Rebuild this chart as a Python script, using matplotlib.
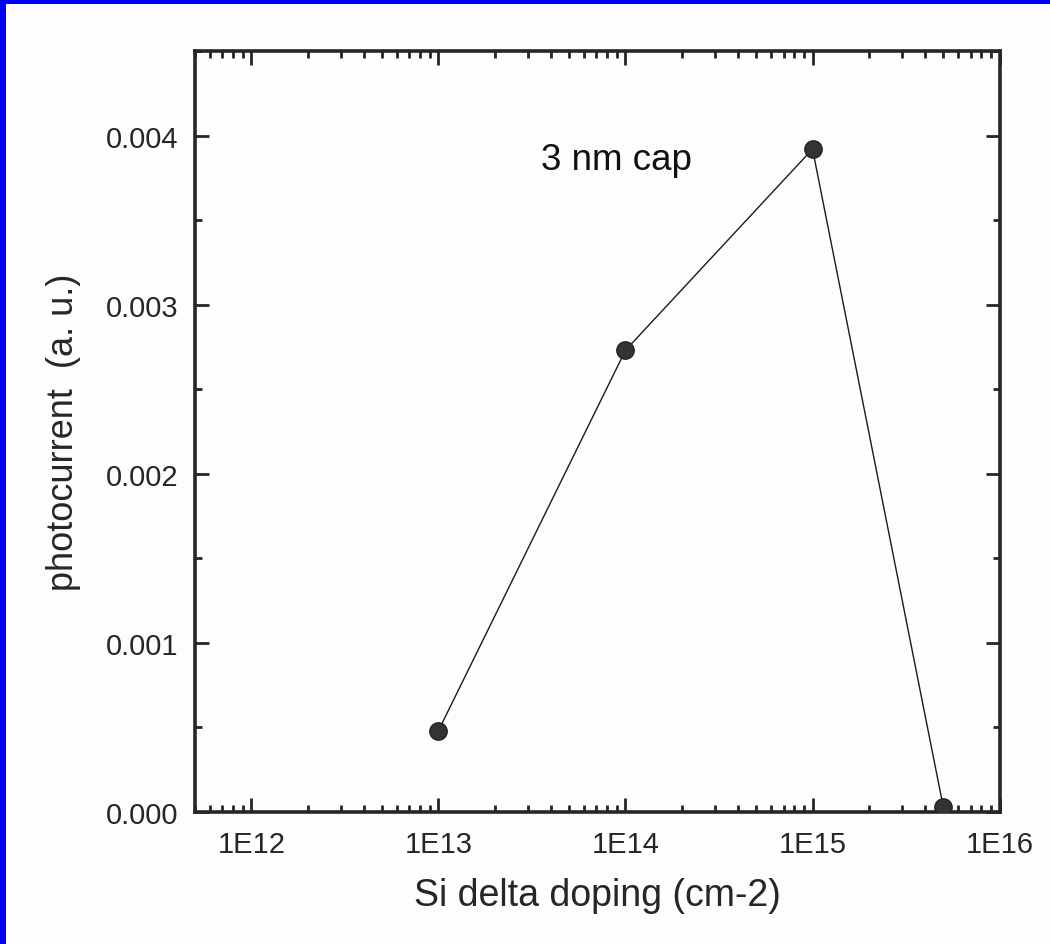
import matplotlib
matplotlib.use("Agg")
import matplotlib.pyplot as plt
import matplotlib.ticker as mticker
import numpy as np

# Si delta doping series (3 nm cap)
doping = [1e13, 1e14, 1e15, 5e15]
photocurrent = [0.00048, 0.00273, 0.00392, 0.00003]

x_ticks = [1e12, 1e13, 1e14, 1e15, 1e16]
x_tick_labels = ["1E12", "1E13", "1E14", "1E15", "1E16"]
y_ticks = [0.000, 0.001, 0.002, 0.003, 0.004]
y_tick_labels = ["0.000", "0.001", "0.002", "0.003", "0.004"]

plt.rcParams['font.family'] = ['Liberation Sans', 'DejaVu Sans']

INK = '#262626'

fig = plt.figure(figsize=(10.5, 9.45), dpi=100)
fig.patch.set_facecolor('#fdfdfd')
ax = fig.add_axes([0.1857, 0.1397, 0.7663, 0.8053])
ax.set_facecolor('#fdfdfd')

ax.plot(doping, photocurrent, color='#1a1a1a', linewidth=1.0, zorder=2)
ax.plot(doping, photocurrent, linestyle='none', marker='o', markersize=12.5,
        markerfacecolor='#333333', markeredgecolor='#222222', zorder=3)

ax.set_xscale('log')
ax.set_xlim(5e11, 1e16)
ax.set_ylim(0, 0.0045)

ax.set_xticks(x_ticks)
ax.set_xticklabels(x_tick_labels)
ax.xaxis.set_minor_locator(mticker.LogLocator(base=10, subs=np.arange(2, 10), numticks=20))
ax.xaxis.set_minor_formatter(mticker.NullFormatter())
ax.set_yticks(y_ticks)
ax.set_yticklabels(y_tick_labels)
ax.yaxis.set_minor_locator(mticker.MultipleLocator(0.0005))

ax.tick_params(which='both', direction='in', top=True, right=True, color=INK,
               labelcolor=INK, labelsize=21)
ax.tick_params(which='major', length=10, width=2)
ax.tick_params(which='minor', length=5, width=2)
ax.tick_params(axis='x', pad=13)
ax.tick_params(axis='y', pad=12)

for spine in ax.spines.values():
    spine.set_linewidth(2.6)
    spine.set_color(INK)

ax.set_xlabel('Si delta doping (cm-2)', fontsize=27, color=INK, labelpad=14)
ax.set_ylabel('photocurrent  (a. u.)', fontsize=26, color=INK, labelpad=18)

ax.text(0.524, 0.858, '3 nm cap', transform=ax.transAxes, fontsize=26.5,
        color='#111111', ha='center', va='center')

# blue frame along the top and left edges
fig.add_artist(plt.Rectangle((0, 1 - 5 / 945), 1, 5 / 945, transform=fig.transFigure,
                             facecolor='#0000ff', edgecolor='none'))
fig.add_artist(plt.Rectangle((0, 0), 6 / 1050, 1, transform=fig.transFigure,
                             facecolor='#0000ff', edgecolor='none'))

fig.savefig('out.png', dpi=100, facecolor=fig.get_facecolor())
